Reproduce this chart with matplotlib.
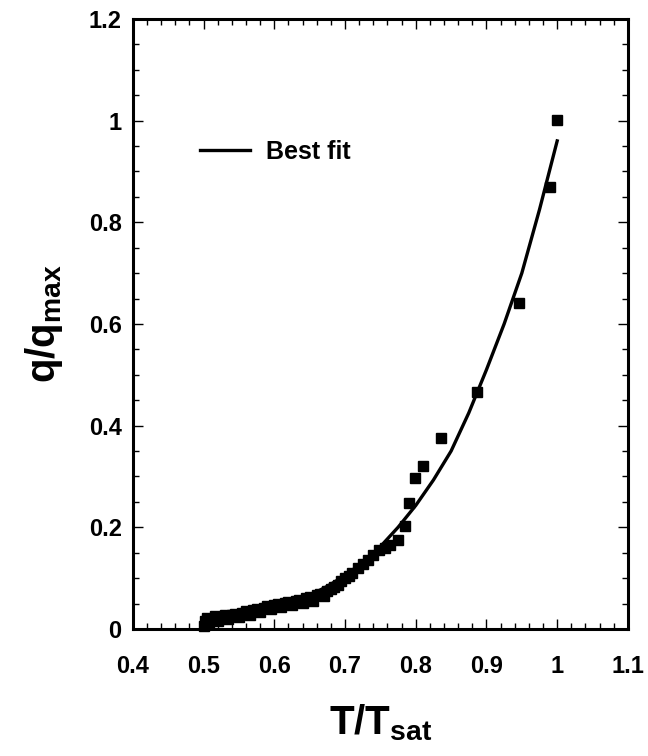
import numpy as np
import matplotlib.pyplot as plt
from matplotlib.ticker import MultipleLocator

plt.rcParams['font.family'] = ['Liberation Sans', 'DejaVu Sans']
plt.rcParams['font.weight'] = 'bold'
plt.rcParams['mathtext.fontset'] = 'custom'
plt.rcParams['mathtext.rm'] = 'Liberation Sans:bold'
plt.rcParams['mathtext.bf'] = 'Liberation Sans:bold'

# ── measured points (T/Tsat, q/qmax) ─────────────────────────
t_data = [0.500, 0.502, 0.505, 0.508, 0.512, 0.516, 0.520, 0.525, 0.530, 0.535,
          0.540, 0.545, 0.550, 0.555, 0.560, 0.565, 0.570, 0.575, 0.580, 0.585,
          0.590, 0.595, 0.600, 0.605, 0.610, 0.615, 0.620, 0.625, 0.630, 0.635,
          0.640, 0.645, 0.650, 0.655, 0.660, 0.665, 0.670, 0.675, 0.680, 0.685,
          0.690, 0.695, 0.700, 0.705, 0.710, 0.718, 0.725, 0.732, 0.740, 0.748,
          0.756, 0.764, 0.775, 0.785, 0.790, 0.799, 0.810, 0.836, 0.887, 0.946,
          0.990, 1.000]
q_data = [0.005, 0.015, 0.022, 0.010, 0.020, 0.025, 0.015, 0.024, 0.027, 0.020,
          0.028, 0.030, 0.024, 0.032, 0.036, 0.028, 0.038, 0.040, 0.034, 0.042,
          0.045, 0.040, 0.047, 0.050, 0.044, 0.052, 0.054, 0.048, 0.055, 0.057,
          0.052, 0.060, 0.062, 0.056, 0.066, 0.068, 0.064, 0.074, 0.078, 0.082,
          0.086, 0.095, 0.100, 0.104, 0.110, 0.120, 0.128, 0.136, 0.146, 0.155,
          0.160, 0.165, 0.175, 0.203, 0.248, 0.297, 0.320, 0.376, 0.466, 0.642,
          0.870, 1.002]

# ── best fit curve ───────────────────────────────────────────
t_fit = [0.52, 0.55, 0.575, 0.60, 0.625, 0.65, 0.675, 0.70, 0.725, 0.75,
         0.775, 0.80, 0.825, 0.85, 0.875, 0.90, 0.925, 0.95, 0.975, 1.00]
q_fit = [0.017, 0.024, 0.031, 0.040, 0.052, 0.066, 0.084, 0.105, 0.131, 0.162,
         0.200, 0.243, 0.293, 0.350, 0.425, 0.510, 0.600, 0.700, 0.825, 0.960]

fig = plt.figure(figsize=(6.48, 7.56), dpi=100)
ax = fig.add_axes([0.205, 0.168, 0.764, 0.807])

ax.plot(t_data, q_data, ls='none', marker='s', ms=7, color='black',
        clip_on=False, zorder=3)
ax.plot(t_fit, q_fit, color='black', lw=2.4, label='Best fit', zorder=4,
        solid_joinstyle='round')

ax.set_xlim(0.4, 1.1)
ax.set_ylim(0, 1.2)
ax.xaxis.set_minor_locator(MultipleLocator(0.02))
ax.yaxis.set_minor_locator(MultipleLocator(0.05))
ax.set_xticks(np.arange(0.4, 1.11, 0.1))
ax.set_xticklabels(['0.4', '0.5', '0.6', '0.7', '0.8', '0.9', '1', '1.1'])
ax.set_yticks(np.arange(0, 1.21, 0.2))
ax.set_yticklabels(['0', '0.2', '0.4', '0.6', '0.8', '1', '1.2'])

ax.tick_params(which='both', direction='in', top=True, right=True, width=1)
ax.tick_params(which='major', length=7)
ax.tick_params(which='minor', length=4)
ax.tick_params(axis='x', which='major', pad=19, labelsize=17)
ax.tick_params(axis='y', which='major', pad=8, labelsize=17)
for s in ax.spines.values():
    s.set_linewidth(2.2)

ax.set_xlabel(r'$\mathbf{T/T_{sat}}$', fontsize=29, labelpad=17)
ax.set_ylabel(r'$\mathbf{q/q_{max}}$', fontsize=29, labelpad=17)

ax.legend(loc='center left', bbox_to_anchor=(0.135, 0.782), frameon=False,
          fontsize=18, handlelength=2.0, handletextpad=0.65,
          borderpad=0, borderaxespad=0)

fig.savefig('out.png', dpi=100)
